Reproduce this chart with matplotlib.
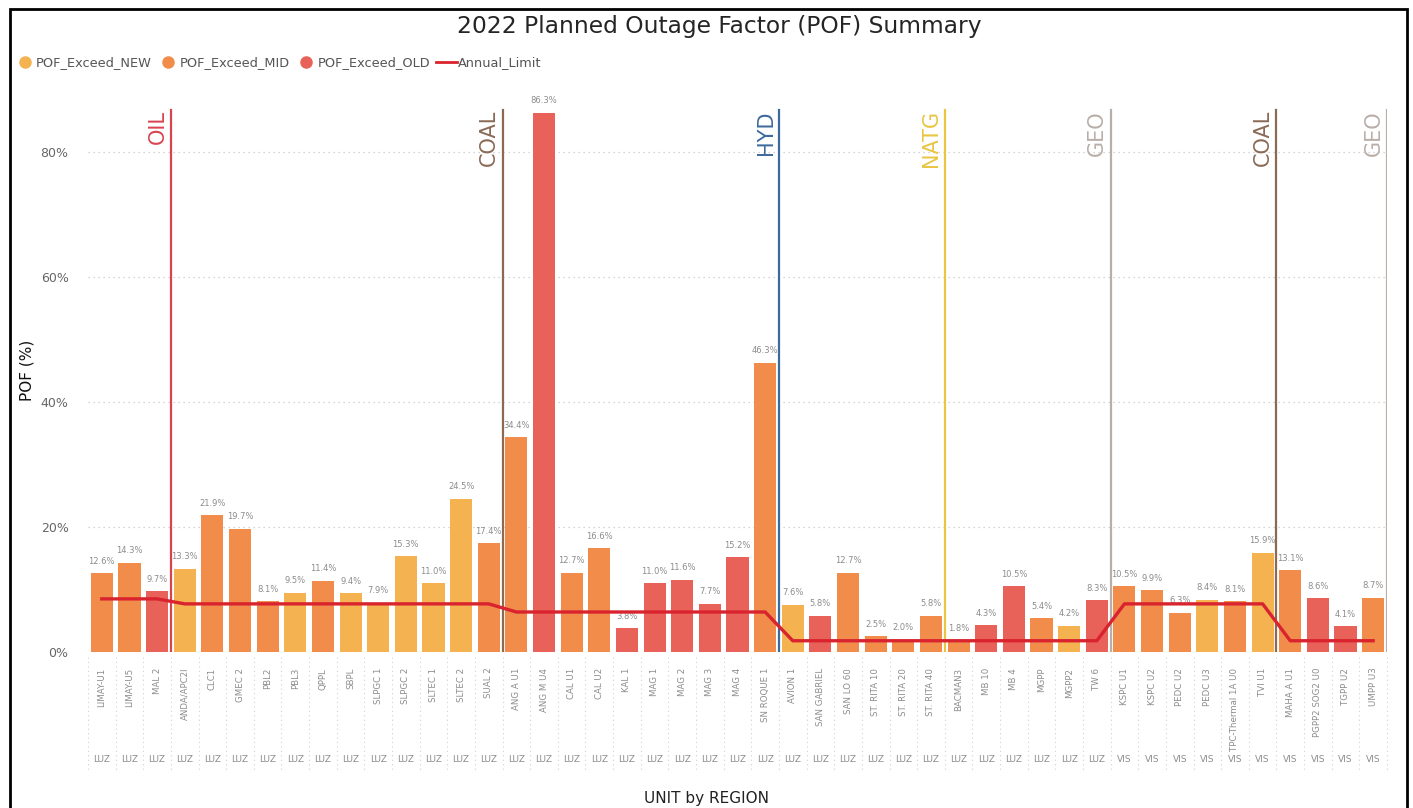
import matplotlib
matplotlib.use("Agg")
import matplotlib.pyplot as plt
import matplotlib.transforms as mtransforms
from matplotlib.lines import Line2D
from matplotlib.patches import Rectangle
import numpy as np

units = ["LIMAY-U1", "LIMAY-U5", "MAL 2", "ANDA/APC2l", "CLC1", "GMEC 2", "PBL2", "PBL3",
         "QPPL", "SBPL", "SLPGC 1", "SLPGC 2", "SLTEC 1", "SLTEC 2", "SUAL 2", "ANG A U1",
         "ANG M U4", "CAL U1", "CAL U2", "KAL 1", "MAG 1", "MAG 2", "MAG 3", "MAG 4",
         "SN ROQUE 1", "AVION 1", "SAN GABRIEL", "SAN LO 60", "ST. RITA 10", "ST. RITA 20",
         "ST. RITA 40", "BACMAN3", "MB 10", "MB 4", "MGPP", "MGPP2", "TW 6", "KSPC U1",
         "KSPC U2", "PEDC U2", "PEDC U3", "TPC-Thermal 1A U0", "TVI U1", "MAHA A U1",
         "PGPP2 SOG2 U0", "TGPP U2", "UMPP U3"]
regions = ["LUZ"] * 37 + ["VIS"] * 10
pof = [12.6, 14.3, 9.7, 13.3, 21.9, 19.7, 8.1, 9.5, 11.4, 9.4, 7.9, 15.3, 11.0, 24.5, 17.4,
       34.4, 86.3, 12.7, 16.6, 3.8, 11.0, 11.6, 7.7, 15.2, 46.3, 7.6, 5.8, 12.7, 2.5, 2.0,
       5.8, 1.8, 4.3, 10.5, 5.4, 4.2, 8.3, 10.5, 9.9, 6.3, 8.4, 8.1, 15.9, 13.1, 8.6, 4.1, 8.7]
age = ["MID", "MID", "OLD", "NEW", "MID", "MID", "MID", "NEW", "MID", "NEW", "NEW", "NEW",
       "NEW", "NEW", "MID", "MID", "OLD", "MID", "MID", "OLD", "OLD", "OLD", "OLD", "OLD",
       "MID", "NEW", "OLD", "MID", "MID", "MID", "MID", "MID", "OLD", "OLD", "MID", "NEW",
       "OLD", "MID", "MID", "MID", "NEW", "MID", "NEW", "MID", "OLD", "OLD", "MID"]
annual_limit = [8.5] * 3 + [7.7] * 12 + [6.4] * 10 + [1.8] * 12 + [7.7] * 6 + [1.8] * 4

# fuel type boundaries (line drawn after this bar index)
fuel_names = ["OIL", "COAL", "HYD", "NATG", "GEO", "COAL", "GEO"]
fuel_after = [2, 14, 24, 30, 36, 42, 46]
fuel_colors = ["#D9434E", "#8A6A55", "#3D6A9E", "#E9C542", "#B9AEA9", "#8A6A55", "#B9AEA9"]

age_colors = {"NEW": "#F4B350", "MID": "#F28C4B", "OLD": "#E9625A"}
limit_color = "#D9232E"
gray = "#8C8C8C"

fig = plt.figure(figsize=(14.13, 8.08), dpi=100)
ax = fig.add_axes([88 / 1413, 156 / 808, 1299 / 1413, 562.5 / 808])

x = np.arange(len(units))
ax.bar(x, pof, width=0.8, color=[age_colors[a] for a in age], zorder=2)
for xi, v in zip(x, pof):
    ax.text(xi, v + 1.2, f"{v:.1f}%", ha="center", va="bottom", fontsize=6, color=gray)

ax.plot(x, annual_limit, color=limit_color, lw=2.4, zorder=4)

for name, after, c in zip(fuel_names, fuel_after, fuel_colors):
    lx = after + 0.5
    ax.plot([lx, lx], [0, 86.7], color=c, lw=1.6, zorder=3)
    ax.text(lx - 0.12, 86.7, name, rotation=90, rotation_mode="anchor", ha="right",
            va="bottom", fontsize=15, color=c)

ax.set_xlim(-0.5, len(units) - 0.5)
ax.set_ylim(0, 90)
ax.set_yticks([0, 20, 40, 60, 80])
ax.set_yticklabels(["0%", "20%", "40%", "60%", "80%"], fontsize=9, color="#666666")
ax.yaxis.grid(True, ls=(0, (1, 3)), color="#C8C8C8", lw=0.9)
ax.set_axisbelow(True)
ax.tick_params(axis="y", length=0, pad=14)
ax.tick_params(axis="x", length=0)
ax.set_xticks([])
for s in ax.spines.values():
    s.set_visible(False)

# two-level category axis
trans = mtransforms.blended_transform_factory(ax.transData, ax.transAxes)
for xi, (u, r) in enumerate(zip(units, regions)):
    ax.text(xi, -0.028, u, rotation=90, ha="center", va="top", fontsize=6.2,
            color=gray, transform=trans)
    ax.text(xi, -0.192, r, ha="center", va="center", fontsize=6.5, color=gray,
            transform=trans)
for xi in np.arange(-0.5, len(units), 1.0):
    ax.plot([xi, xi], [-0.008, -0.21], ls=(0, (1, 3)), color="#D0D0D0", lw=0.8,
            transform=trans, clip_on=False)

ax.set_ylabel("POF (%)", fontsize=11, color="#111111", labelpad=4)
fig.text(0.5, 1 - 798 / 808, "UNIT by REGION", ha="center", va="center", fontsize=11,
         color="#222222")
fig.text(0.509, 1 - 27 / 808, "2022 Planned Outage Factor (POF) Summary", ha="center",
         va="center", fontsize=16.8, color="#252525")

handles = [
    Line2D([], [], marker="o", ls="", color=age_colors["NEW"], markersize=8),
    Line2D([], [], marker="o", ls="", color=age_colors["MID"], markersize=8),
    Line2D([], [], marker="o", ls="", color=age_colors["OLD"], markersize=8),
    Line2D([], [], color=limit_color, lw=2),
]
fig.legend(handles, ["POF_Exceed_NEW", "POF_Exceed_MID", "POF_Exceed_OLD", "Annual_Limit"],
           loc="center left", bbox_to_anchor=(0.002, 1 - 63 / 808), ncol=4, frameon=False,
           fontsize=9.3, handletextpad=0.05, columnspacing=0.5, handlelength=1.6,
           labelcolor="#555555")

fig.patches.append(Rectangle((10 / 1413, -0.05), 1397 / 1413, 1.05 - 9 / 808, fill=False,
                             ec="black", lw=2, transform=fig.transFigure, figure=fig))

fig.savefig("out.png", dpi=100)
